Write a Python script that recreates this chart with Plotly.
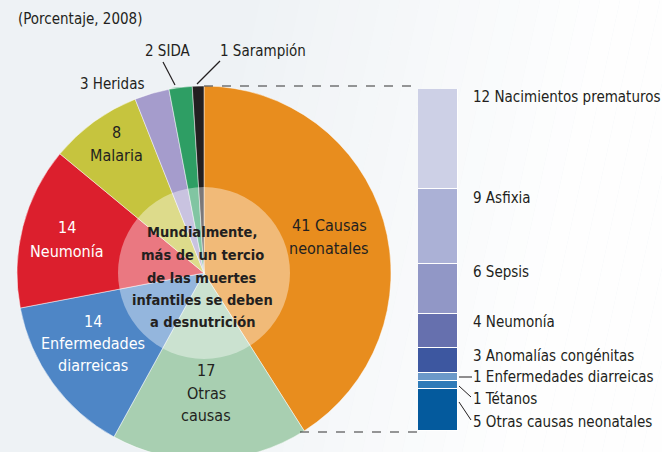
import plotly.graph_objects as go

# ---- data ----
pie_labels = ["Causas neonatales", "Otras causas", "Enfermedades diarreicas", "Neumonía",
              "Malaria", "Heridas", "SIDA", "Sarampión"]
pie_values = [41, 17, 14, 14, 8, 3, 2, 1]
pie_colors = ["#E88D1E", "#A8CFB1", "#4E86C6", "#DC1F2D", "#C6C43E", "#A59CCC", "#2E9E64", "#231F20"]

neo_labels = ["Nacimientos prematuros", "Asfixia", "Sepsis", "Neumonía", "Anomalías congénitas",
              "Enfermedades diarreicas", "Tétanos", "Otras causas neonatales"]
neo_values = [12, 9, 6, 4, 3, 1, 1, 5]
neo_colors = ["#CDD0E6", "#ABB1D6", "#9197C6", "#6670AE", "#3D57A0", "#6B99C9", "#2F7BB8", "#045A9D"]

title_text = "(Porcentaje, 2008)"
center_lines = ["Mundialmente,", "más de un tercio", "de las muertes", "infantiles se deben", "a desnutrición"]

W, H = 662, 462
FONT = "DejaVu Sans Condensed, Liberation Sans Narrow, sans-serif"
DARK = "#231F20"

def px(x):
    return x / W

def py(y):
    return 1 - y / H

fig = go.Figure()

fig.add_trace(go.Pie(
    labels=pie_labels, values=pie_values, sort=False, direction="clockwise", rotation=0,
    marker=dict(colors=pie_colors, line=dict(color="rgba(255,255,255,0.6)", width=0.8)),
    textinfo="none", hoverinfo="label+value", showlegend=False,
    domain=dict(x=[px(17), px(391)], y=[py(460), py(86)]),
))

for lab, val, col in zip(neo_labels, neo_values, neo_colors):
    fig.add_trace(go.Bar(
        x=[0], y=[val], name=lab, marker=dict(color=col, line=dict(color="white", width=1.2)),
        width=1, showlegend=False, xaxis="x", yaxis="y",
    ))

fig.update_layout(
    width=W, height=H, margin=dict(l=0, r=0, t=0, b=0),
    paper_bgcolor="#EEF2F5", plot_bgcolor="rgba(0,0,0,0)",
    barmode="stack", bargap=0,
    xaxis=dict(domain=[px(418), px(458)], range=[-0.5, 0.5], visible=False, fixedrange=True),
    yaxis=dict(domain=[py(431), py(89)], range=[sum(neo_values), 0], visible=False, fixedrange=True),
    font=dict(family=FONT, color=DARK),
)

shapes = []
# soft diagonal background gradient (bands)
step = 20
slant = 100
x = 220
while x < W + slant:
    a = min(1.0, max(0.0, (x - 220) / 380)) * 0.9
    x2 = x + step
    shapes.append(dict(type="path", xref="paper", yref="paper",
                       path=(f"M {px(x)} {py(0)} L {px(x2)} {py(0)} L {px(x2 - slant)} {py(H)} "
                             f"L {px(x - slant)} {py(H)} Z"),
                       fillcolor=f"rgba(255,255,255,{a:.3f})", line=dict(width=0), layer="below"))
    x = x2
# translucent centre circle
shapes.append(dict(type="circle", xref="paper", yref="paper",
                   x0=px(118), x1=px(290), y0=py(359), y1=py(187),
                   fillcolor="rgba(255,255,255,0.4)", line=dict(width=0)))
# dashed connectors
shapes.append(dict(type="line", xref="paper", yref="paper", x0=px(204), x1=px(418), y0=py(86), y1=py(86),
                   line=dict(color="#333", width=1.2, dash="dash")))
shapes.append(dict(type="line", xref="paper", yref="paper", x0=px(300), x1=px(418), y0=py(432), y1=py(432),
                   line=dict(color="#333", width=1.2, dash="dash")))
# leader lines pie
shapes.append(dict(type="line", xref="paper", yref="paper", x0=px(163), x1=px(175), y0=py(62), y1=py(85),
                   line=dict(color=DARK, width=1.2)))
shapes.append(dict(type="line", xref="paper", yref="paper", x0=px(220), x1=px(197), y0=py(61), y1=py(84),
                   line=dict(color=DARK, width=1.2)))
# leader lines bar
shapes.append(dict(type="line", xref="paper", yref="paper", x0=px(459), x1=px(472), y0=py(377), y1=py(377),
                   line=dict(color=DARK, width=1)))
shapes.append(dict(type="line", xref="paper", yref="paper", x0=px(459), x1=px(471), y0=py(386), y1=py(397),
                   line=dict(color=DARK, width=1)))
shapes.append(dict(type="line", xref="paper", yref="paper", x0=px(459), x1=px(471), y0=py(402), y1=py(420),
                   line=dict(color=DARK, width=1)))
fig.update_layout(shapes=shapes)

ann = []
def add(text, x, y, size=16, color=DARK, xanchor="center", bold=False):
    if bold:
        text = f"<b>{text}</b>"
    ann.append(dict(text=text, x=px(x), y=py(y), xref="paper", yref="paper", showarrow=False,
                    xanchor=xanchor, yanchor="middle", font=dict(size=size, color=color, family=FONT)))

def add_lines(lines, x, ys, **kw):
    for t, yy in zip(lines, ys):
        add(t, x, yy, **kw)

add(title_text, 16, 19, size=15, xanchor="left")
add_lines(center_lines, 202, [232, 255, 278, 300, 322], size=14.5, bold=True)

def pie_lab(i):
    return f"{pie_values[i]} {pie_labels[i]}"

add_lines([f"{pie_values[0]} Causas", "neonatales"], 329, [225, 248], size=16)
add_lines([f"{pie_values[1]}", "Otras", "causas"], 206, [370, 393, 415], size=16)
add_lines([f"{pie_values[2]}", "Enfermedades", "diarreicas"], 93, [321, 343, 365], size=16, color="white")
add_lines([f"{pie_values[3]}", pie_labels[3]], 67, [228, 251], size=16, color="white")
add_lines([f"{pie_values[4]}", pie_labels[4]], 116, [132, 155], size=16)
add(pie_lab(5), 112, 84, size=15)
add(pie_lab(6), 168, 51, size=15)
add(pie_lab(7), 218, 51, size=15, xanchor="left")

# bar labels
label_y = [97, 198, 272, 322, 356, 377, 399, 422]
for lab, val, yy in zip(neo_labels, neo_values, label_y):
    add(f"{val} {lab}", 471, yy, size=15, xanchor="left")

fig.update_layout(annotations=ann)

fig.write_html("out.html", config={"displayModeBar": False}, post_script=(
    "document.body.style.margin='0';document.body.style.overflow='hidden';"
    "document.documentElement.style.overflow='hidden';"))
